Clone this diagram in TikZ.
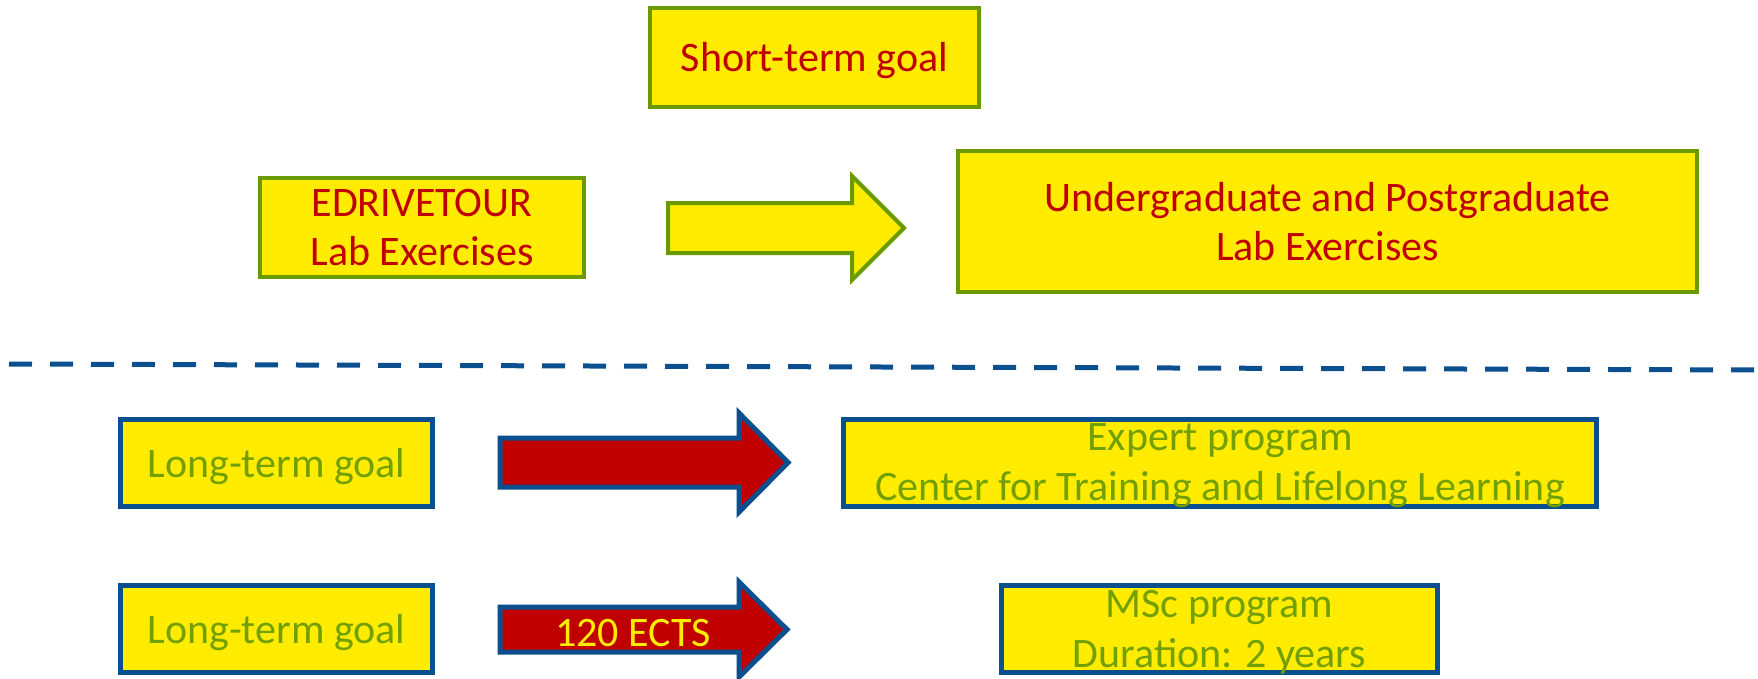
\documentclass[tikz,border=0pt]{standalone}
\usepackage{fontspec}
\setmainfont{Carlito}
\definecolor{boxyellow}{HTML}{FFEC00}
\definecolor{goalgreen}{HTML}{6B9A00}
\definecolor{textgreen}{HTML}{72A000}
\definecolor{goalred}{HTML}{C00000}
\definecolor{goalblue}{HTML}{0B4F8E}
\tikzset{
  shortbox/.style={draw=goalgreen, line width=4pt, fill=boxyellow, text=goalred, align=center, inner sep=0pt,
    text depth=1pt, font=\fontsize{42}{49}\selectfont},
  longbox/.style={draw=goalblue, line width=5pt, fill=boxyellow, text=textgreen, align=center, inner sep=0pt,
    text depth=1pt, font=\fontsize{42}{50}\selectfont},
  shortarrow/.style={draw=goalgreen, line width=4pt, fill=boxyellow, line join=miter},
  longarrow/.style={draw=goalblue, line width=5pt, fill=goalred, line join=miter},
  divider/.style={draw=goalblue, line width=5pt, dash pattern=on 23pt off 18pt},
}
\begin{document}
\begin{tikzpicture}[x=1pt, y=-1pt]
\useasboundingbox[fill=white] (0,0) rectangle (1758,678);

% upper part
\node[shortbox, minimum width=329pt, minimum height=99pt] (st) at (814.5,57.5) {Short-term goal};
\node[shortbox, minimum width=324pt, minimum height=99pt] (edt) at (422,227.5) {EDRIVETOUR\\Lab Exercises};
\node[shortbox, minimum width=739pt, minimum height=141pt] (ug) at (1327.5,221.5) {Undergraduate and Postgraduate\\Lab Exercises};
\draw[shortarrow] (668,203) -- (852,203) -- (852,176) -- (904,228) -- (852,280) -- (852,253) -- (668,253) -- cycle;

% divider
\coordinate (dl) at (9,364);
\coordinate (dr) at (1758,370);
\draw[divider] (dl) -- (dr);

% lower part
\node[longbox, minimum width=312pt, minimum height=87pt] (lt1) at (276.5,463) {Long-term goal};
\node[longbox, minimum width=753pt, minimum height=87pt] (ex) at (1220,463) {Expert program\\Center for Training and Lifelong Learning};
\draw[longarrow] (500,438) -- (739,438) -- (739,413) -- (788,462.5) -- (739,512) -- (739,487) -- (500,487) -- cycle;

\node[longbox, minimum width=312pt, minimum height=87pt] (lt2) at (276.5,629) {Long-term goal};
\node[longbox, minimum width=436pt, minimum height=87pt] (msc) at (1219.5,629) {MSc program\\Duration: 2 years};
\draw[longarrow] (500,607) -- (739,607) -- (739,582) -- (787,629.5) -- (739,677) -- (739,652) -- (500,652) -- cycle;
\node[text=boxyellow, font=\fontsize{42}{50}\selectfont, inner sep=0pt] (ects) at (633,633) {120 ECTS};
\end{tikzpicture}
\end{document}
